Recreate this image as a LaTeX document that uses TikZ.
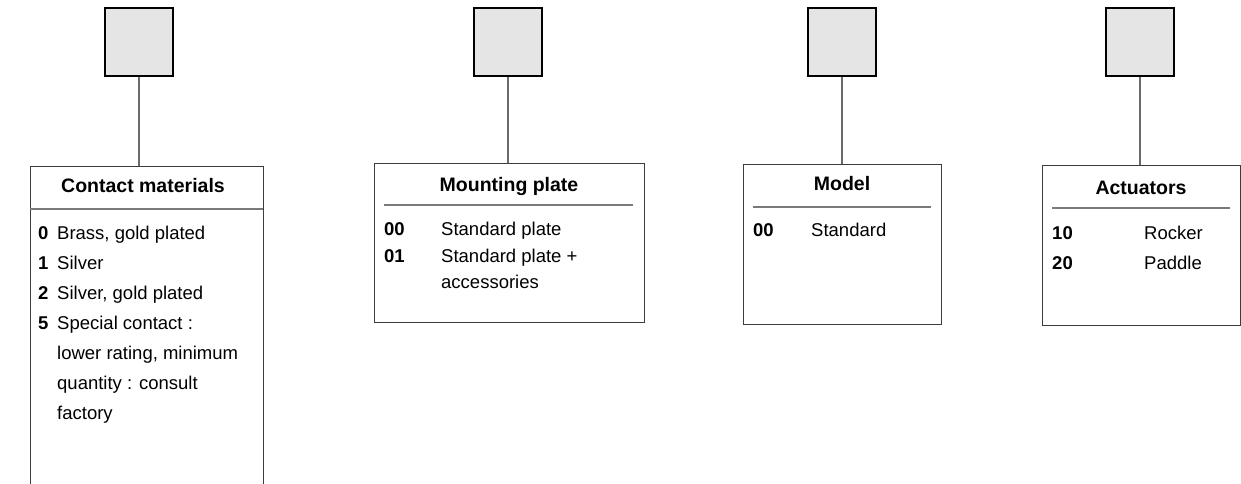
\documentclass[tikz,border=0pt]{standalone}
\usepackage{fontspec}
\setmainfont{Liberation Sans}
\definecolor{sqgray}{HTML}{E5E5E5}
\definecolor{boxline}{HTML}{3C3C3C}
\definecolor{ruleline}{HTML}{7A7A7A}
\definecolor{conline}{HTML}{6A6A6A}
\begin{document}
\begin{tikzpicture}[x=1pt,y=-1pt,
  sqbox/.style={draw=black,line width=2.8pt,fill=sqgray,minimum width=68pt,minimum height=68pt,inner sep=0pt},
  infobox/.style={draw=boxline,line width=1.1pt,anchor=north west,inner sep=0pt},
  conn/.style={draw=conline,line width=1.2pt},
  hrule/.style={draw=ruleline,line width=1.4pt},
  head/.style={font=\fontsize{19.5}{22}\selectfont\bfseries,anchor=base,inner sep=0pt},
  num/.style={font=\fontsize{18.5}{21}\selectfont\bfseries,anchor=base west,inner sep=0pt},
  txt/.style={font=\fontsize{18.5}{21}\selectfont,anchor=base west,inner sep=0pt}]
\useasboundingbox (0,0) rectangle (1241,484);
\clip (0,0) rectangle (1241,484);
\fill[white] (0,0) rectangle (1241,484);

% squares
\node[sqbox] (sq1) at (139,42) {};
\node[sqbox] (sq2) at (508,42) {};
\node[sqbox] (sq3) at (842,42) {};
\node[sqbox] (sq4) at (1140,42) {};

% boxes
\node[infobox,minimum width=233pt,minimum height=340pt] (b1) at (30,166) {};
\node[infobox,minimum width=270pt,minimum height=159pt] (b2) at (374,163) {};
\node[infobox,minimum width=198pt,minimum height=160pt] (b3) at (743,164) {};
\node[infobox,minimum width=198pt,minimum height=160pt] (b4) at (1042,165) {};

% connectors
\draw[conn] (sq1.south) -- (sq1.south |- b1.north);
\draw[conn] (sq2.south) -- (sq2.south |- b2.north);
\draw[conn] (sq3.south) -- (sq3.south |- b3.north);
\draw[conn] (sq4.south) -- (sq4.south |- b4.north);

% box 1
\node[head] (h1) at (143,192) {Contact materials};
\coordinate (r1a) at (30,209);
\coordinate (r1b) at (263,209);
\draw[hrule] (r1a) -- (r1b);
\node[num] (n10) at (38,239) {0};
\node[txt] (t10) at (57,239) {Brass, gold plated};
\node[num] (n11) at (38,269) {1};
\node[txt] (t11) at (57,269) {Silver};
\node[num] (n12) at (38,299) {2};
\node[txt] (t12) at (57,299) {Silver, gold plated};
\node[num] (n15) at (38,329) {5};
\node[txt] (t15) at (57,329) {Special contact :};
\node[txt] (t16) at (57,359) {lower rating, minimum};
\node[txt] (t17) at (57,389) {quantity : consult};
\node[txt] (t18) at (57,419) {factory};

% box 2
\node[head] (h2) at (509,191) {Mounting plate};
\coordinate (r2a) at (384,205);
\coordinate (r2b) at (633,205);
\draw[hrule] (r2a) -- (r2b);
\node[num] (n200) at (384,235) {00};
\node[txt] (t200) at (441,235) {Standard plate};
\node[num] (n201) at (384,262) {01};
\node[txt] (t201) at (441,262) {Standard plate +};
\node[txt] (t202) at (441,288) {accessories};

% box 3
\node[head] (h3) at (842,190) {Model};
\coordinate (r3a) at (753,207);
\coordinate (r3b) at (931,207);
\draw[hrule] (r3a) -- (r3b);
\node[num] (n300) at (753,236) {00};
\node[txt] (t300) at (811,236) {Standard};

% box 4
\node[head] (h4) at (1141,194) {Actuators};
\coordinate (r4a) at (1052,208);
\coordinate (r4b) at (1230,208);
\draw[hrule] (r4a) -- (r4b);
\node[num] (n410) at (1052,239) {10};
\node[txt] (t410) at (1144,239) {Rocker};
\node[num] (n420) at (1052,269) {20};
\node[txt] (t420) at (1144,269) {Paddle};
\end{tikzpicture}
\end{document}
